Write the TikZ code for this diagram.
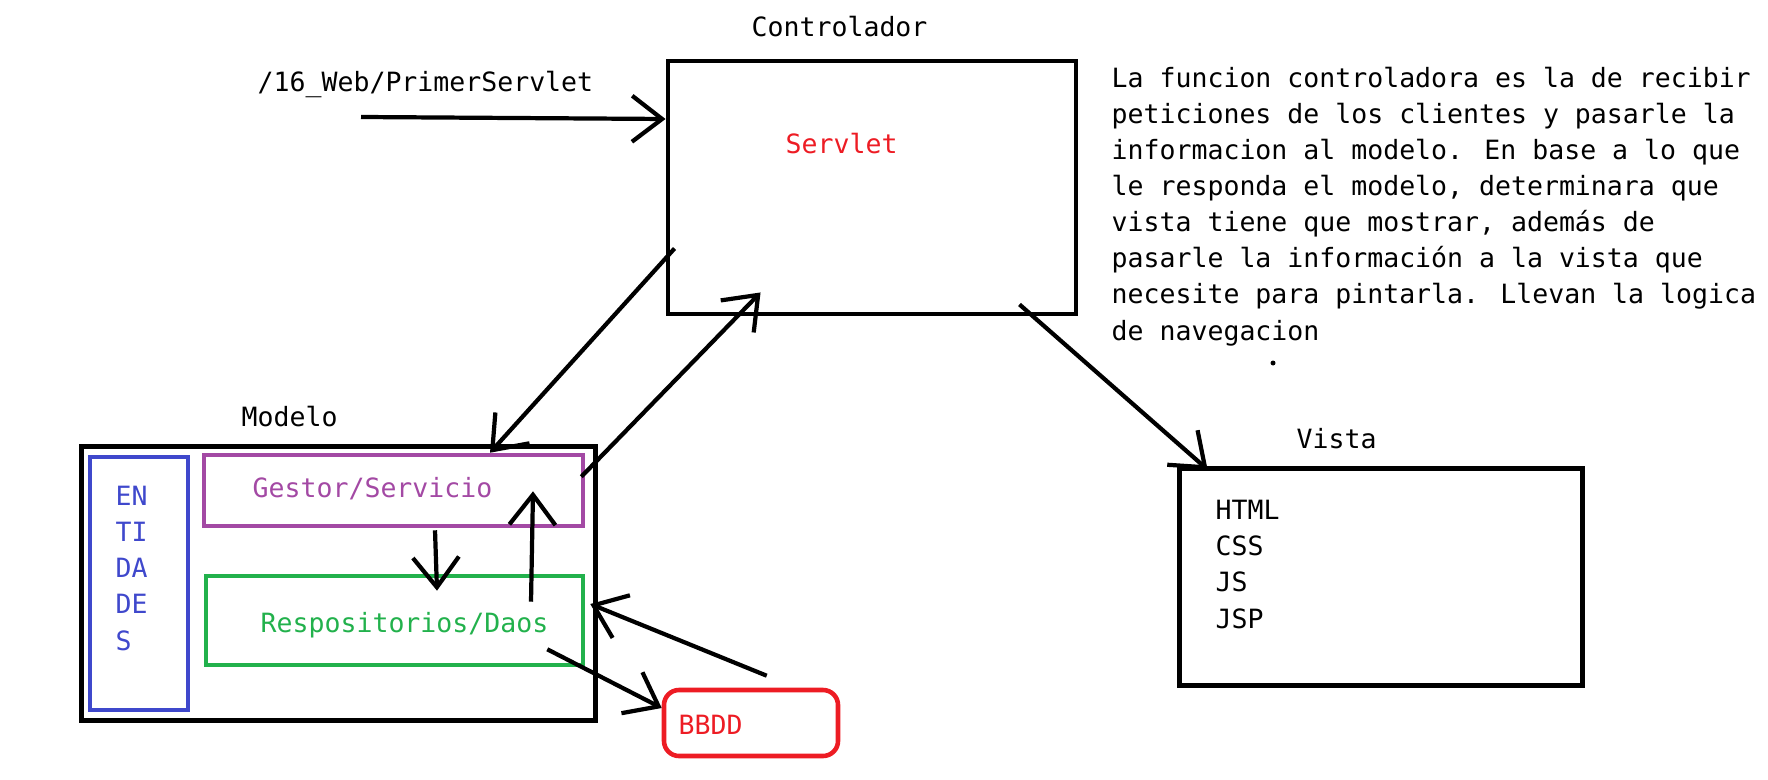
\documentclass[tikz,border=0pt]{standalone}
\usepackage{fontspec}
\setmainfont{DejaVu Sans Mono}
\usepackage{xcolor}
\usepackage{tikz}
\usetikzlibrary{arrows.meta}
\definecolor{pred}{RGB}{237,28,36}
\definecolor{ppurple}{RGB}{163,73,164}
\definecolor{pgreen}{RGB}{34,177,76}
\definecolor{pblue}{RGB}{63,72,204}

\begin{document}
\begin{tikzpicture}[>={Straight Barb[length=3mm,width=4.6mm]},
        box/.style={draw,line width=1.4pt,inner sep=0pt},
        lbl/.style={inner sep=0pt,anchor=base west,align=left,font=\fontsize{7.55}{10.25}\selectfont},
        conn/.style={->,line width=1.2pt}]
        \useasboundingbox (0,0) rectangle (17.68,-7.80);
        \node[box,minimum width=4.08cm,minimum height=2.53cm] (ctrl) at (8.72,-1.875) {};
        \node[box,minimum width=5.14cm,minimum height=2.74cm] (modelo) at (3.385,-5.835) {};
        \node[box,draw=pblue,line width=1.3pt,minimum width=0.98cm,minimum height=2.53cm] (entidades) at (1.39,-5.835) {};
        \node[box,draw=ppurple,line width=1.3pt,minimum width=3.79cm,minimum height=0.71cm] (gestor) at (3.935,-4.905) {};
        \node[box,draw=pgreen,line width=1.3pt,minimum width=3.77cm,minimum height=0.89cm] (repos) at (3.945,-6.205) {};
        \node[box,draw=pred,line width=1.3pt,rounded corners=1.5mm,minimum width=1.74cm,minimum height=0.66cm] (bbdd) at (7.51,-7.23) {};
        \node[box,minimum width=4.03cm,minimum height=2.17cm] (vista) at (13.81,-5.77) {};
        \node[lbl] (controlador) at (7.51,-0.37) {Controlador};
        \node[lbl] (url) at (2.57,-0.92) {/16\_Web/PrimerServlet};
        \node[lbl,text=pred] (servlet) at (7.85,-1.54) {Servlet};
        \node[lbl] (funcion) at (11.11,-3.40) {La funcion controladora es la de recibir\\
                peticiones de los clientes y pasarle la\\
                informacion al modelo. En base a lo que\\
                le responda el modelo, determinara que\\
                vista tiene que mostrar, además de\\
                pasarle la información a la vista que\\
                necesite para pintarla. Llevan la logica\\
                de navegacion};
        \node[lbl] (modelolbl) at (2.41,-4.26) {Modelo};
        \node[lbl,text=ppurple] (gestorlbl) at (2.52,-4.97) {Gestor/Servicio};
        \node[lbl,text=pgreen] (reposlbl) at (2.60,-6.32) {Respositorios/Daos};
        \node[lbl,text=pred] (bbddlbl) at (6.78,-7.34) {BBDD};
        \node[lbl] (vistalbl) at (12.96,-4.48) {Vista};
        \node[lbl] (tecnologias) at (12.15,-6.28) {HTML\\CSS\\JS\\JSP};
        \node[lbl,text=pblue] (entidadeslbl) at (1.15,-6.50) {EN\\TI\\DA\\DE\\S};
        \coordinate (peticion) at (3.61,-1.17);
        \draw[conn] (peticion) -- ([yshift=6.85mm]ctrl.west);
        \draw[conn] ([shift={(0.09,0.68)}]ctrl.south west) -- ([xshift=9.65mm]gestor.north);
        \draw[conn] ([shift={(-0.04,-0.24)}]gestor.north east) -- ([shift={(0.95,0.24)}]ctrl.south west);
        \draw[conn] ([shift={(0.415,-0.02)}]gestor.south) -- ([shift={(0.425,-0.17)}]repos.north);
        \draw[conn] ([shift={(1.365,-0.28)}]repos.north) -- ([shift={(1.395,0.37)}]gestor.south);
        \draw[conn] ([shift={(-0.38,0.18)}]repos.south east) -- ([yshift=1.5mm]bbdd.west);
        \draw[conn] ([shift={(1.05,0.12)}]bbdd.north west) -- ([shift={(0.05,0.165)}]repos.east);
        \draw[conn] ([shift={(-0.59,0.12)}]ctrl.south east) -- ([shift={(0.305,-0.035)}]vista.north west);
        \fill (12.73,-3.63) circle (0.025);
    \end{tikzpicture}
\end{document}
